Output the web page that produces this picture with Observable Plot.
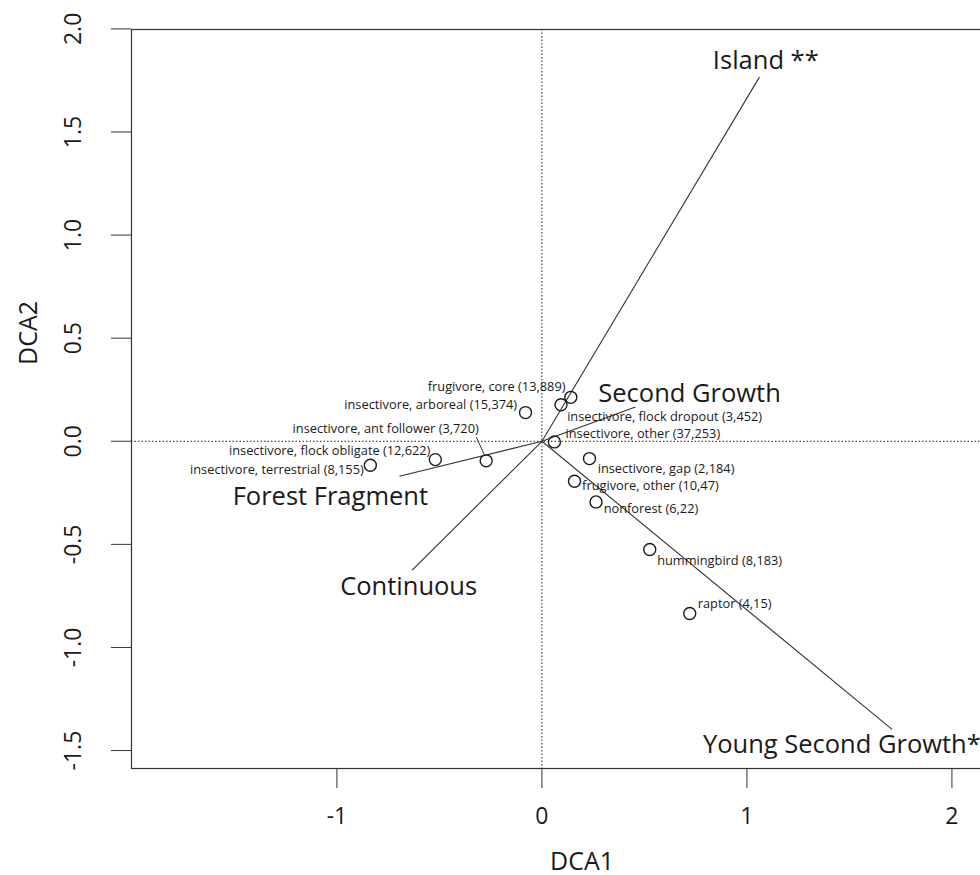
<!DOCTYPE html>
<html><head><meta charset="utf-8">
<script src="https://cdn.jsdelivr.net/npm/d3@7"></script>
<script src="https://cdn.jsdelivr.net/npm/@observablehq/plot@0.6"></script>
<style>
html,body{margin:0;padding:0;overflow:hidden;background:#fff}
#chart svg{max-width:none !important;width:1032px !important;height:875px !important;display:block}
</style>
</head><body><div id="chart"></div>
<script>
// Guild scores (DCA axis 1, axis 2)
const guildNames = [
  "insectivore, terrestrial (8,155)",
  "insectivore, flock obligate (12,622)",
  "insectivore, ant follower (3,720)",
  "insectivore, arboreal (15,374)",
  "frugivore, core (13,889)",
  "insectivore, flock dropout (3,452)",
  "insectivore, other (37,253)",
  "insectivore, gap (2,184)",
  "frugivore, other (10,47)",
  "nonforest (6,22)",
  "hummingbird (8,183)",
  "raptor (4,15)"
];
const guildDCA1 = [-0.837, -0.520, -0.272, -0.080, 0.141, 0.093, 0.061, 0.232, 0.159, 0.264, 0.526, 0.721];
const guildDCA2 = [-0.116, -0.089, -0.095, 0.139, 0.213, 0.177, -0.003, -0.084, -0.194, -0.294, -0.525, -0.835];
// where each guild label sits (data units)
const guildLabelDCA1 = [-0.869, -0.544, -0.308, -0.121, 0.115, 0.123, 0.115, 0.272, 0.196, 0.301, 0.562, 0.760];
const guildLabelDCA2 = [-0.141, -0.047, 0.062, 0.175, 0.263, 0.116, 0.034, -0.136, -0.217, -0.326, -0.582, -0.787];

// Habitat vectors
const envNames = ["Island **", "Second Growth", "Forest Fragment", "Continuous", "Young Second Growth*"];
const envDCA1 = [1.061, 0.456, -0.695, -0.633, 1.708];
const envDCA2 = [1.766, 0.166, -0.170, -0.625, -1.397];
const envLabelDCA1 = [1.092, 0.720, -1.032, -0.650, 1.463];
const envLabelDCA2 = [1.847, 0.232, -0.270, -0.706, -1.474];

// leader line for "ant follower" label
const leaderDCA1 = [-0.320, -0.280];
const leaderDCA2 = [0.021, -0.068];

const xTicks = [-1, 0, 1, 2];
const yTicks = [-1.5, -1.0, -0.5, 0.0, 0.5, 1.0, 1.5, 2.0];

const guilds = guildNames.map((n, i) => ({
  name: n, x: guildDCA1[i], y: guildDCA2[i], lx: guildLabelDCA1[i], ly: guildLabelDCA2[i]
}));
const env = envNames.map((n, i) => ({
  name: n, x: envDCA1[i], y: envDCA2[i], lx: envLabelDCA1[i], ly: envLabelDCA2[i]
}));
const leader = [{x1: leaderDCA1[0], y1: leaderDCA2[0], x2: leaderDCA1[1], y2: leaderDCA2[1]}];
const leftLabels = guilds.filter(d => d.lx < d.x);
const rightLabels = guilds.filter(d => d.lx >= d.x);

const ink = "#1a1a1a";
const chart = Plot.plot({
  width: 1032,
  height: 875,
  marginLeft: 131,
  marginRight: 0,
  marginTop: 29,
  marginBottom: 107,
  style: {fontFamily: "'Open Sans', sans-serif", color: ink, background: "#fff"},
  x: {domain: [-2.002, 2.393]},
  y: {domain: [-1.587, 1.997]},
  marks: [
    Plot.ruleX([0], {stroke: ink, strokeWidth: 1, strokeDasharray: "1.5,2"}),
    Plot.ruleY([0], {stroke: ink, strokeWidth: 1, strokeDasharray: "1.5,2"}),
    Plot.link(env, {x1: () => 0, y1: () => 0, x2: "x", y2: "y", stroke: "#333", strokeWidth: 1.1}),
    Plot.link(leader, {x1: "x1", y1: "y1", x2: "x2", y2: "y2", stroke: "#333", strokeWidth: 1}),
    Plot.dot(guilds, {x: "x", y: "y", r: 6, stroke: ink, strokeWidth: 1.4, fill: "none"}),
    Plot.text(leftLabels, {x: "lx", y: "ly", text: "name", textAnchor: "end", fontSize: 12.8, fill: ink}),
    Plot.text(rightLabels, {x: "lx", y: "ly", text: "name", textAnchor: "start", fontSize: 12.8, fill: ink}),
    Plot.text(env, {x: "lx", y: "ly", text: "name", textAnchor: "middle", fontSize: 25.5, fill: ink}),
    Plot.frame({stroke: "#333", strokeWidth: 1.2}),
    Plot.axisX(xTicks, {tickSize: 20, tickPadding: 19, fontSize: 23, tickFormat: d => String(d), label: null, stroke: "#333"}),
    Plot.axisY(yTicks, {tickSize: 20, tickPadding: 31, tickRotate: -90, fontSize: 23, tickFormat: d => d.toFixed(1), label: null, stroke: "#333"}),
    Plot.text(["DCA1"], {text: d => d, frameAnchor: "bottom", dy: 101, fontSize: 25, fill: ink}),
    Plot.text(["DCA2"], {text: d => d, frameAnchor: "left", rotate: -90, dx: -103, dy: -34, fontSize: 25, fill: ink})
  ]
});
document.getElementById("chart").appendChild(chart);
</script>
</body></html>
